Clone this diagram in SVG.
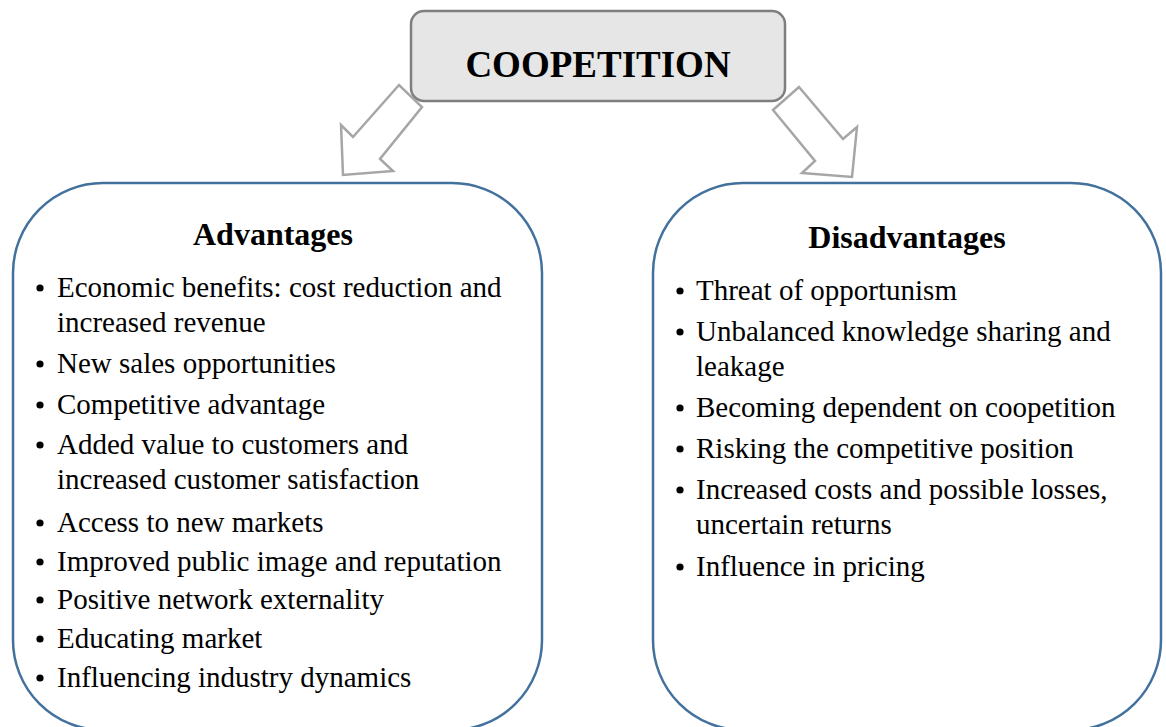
<svg xmlns="http://www.w3.org/2000/svg" width="1166" height="727" viewBox="0 0 1166 727">
<style>
.panel{fill:#ffffff;stroke:#41719c;stroke-width:2.5}
.arrow{fill:#ffffff;stroke:#a6a6a6;stroke-width:2.5;stroke-linejoin:miter}
.top{fill:#e6e6e6;stroke:#7f7f7f;stroke-width:2.5}
.title{font-family:"Liberation Serif","Times New Roman",serif;font-weight:bold;fill:#000;text-anchor:middle}
.item{font-family:"Liberation Serif","Times New Roman",serif;font-size:29px;fill:#000}
.dot{fill:#000}
</style>
<rect width="1166" height="727" fill="#ffffff"/>
<g id="connectors">
<polygon class="arrow" points="399,85 353,137 341,125 343,175 393,171 380,159 422,107"/>
<polygon class="arrow" points="799,87 843,139 857,127 852,177 802,173 815,161 773,110"/>
</g>
<g id="coopetition">
<rect class="top" x="411" y="11" width="374" height="90" rx="13" ry="13"/>
<text class="title" x="598" y="77" font-size="37">COOPETITION</text>
</g>
<g id="advantages">
<rect class="panel" x="13" y="183" width="529" height="547" rx="90" ry="90"/>
<text class="title" x="273" y="245" font-size="32">Advantages</text>
<circle class="dot" cx="40" cy="288" r="3.6"/>
<text class="item" x="57" y="297">Economic benefits: cost reduction and</text>
<text class="item" x="57" y="332">increased revenue</text>
<circle class="dot" cx="40" cy="364" r="3.6"/>
<text class="item" x="57" y="373">New sales opportunities</text>
<circle class="dot" cx="40" cy="405" r="3.6"/>
<text class="item" x="57" y="414">Competitive advantage</text>
<circle class="dot" cx="40" cy="445" r="3.6"/>
<text class="item" x="57" y="454">Added value to customers and</text>
<text class="item" x="57" y="489">increased customer satisfaction</text>
<circle class="dot" cx="40" cy="523" r="3.6"/>
<text class="item" x="57" y="532">Access to new markets</text>
<circle class="dot" cx="40" cy="562" r="3.6"/>
<text class="item" x="57" y="571">Improved public image and reputation</text>
<circle class="dot" cx="40" cy="600" r="3.6"/>
<text class="item" x="57" y="609">Positive network externality</text>
<circle class="dot" cx="40" cy="639" r="3.6"/>
<text class="item" x="57" y="648">Educating market</text>
<circle class="dot" cx="40" cy="678" r="3.6"/>
<text class="item" x="57" y="687">Influencing industry dynamics</text>
</g>
<g id="disadvantages">
<rect class="panel" x="653" y="183" width="508" height="547" rx="90" ry="90"/>
<text class="title" x="907" y="248" font-size="32">Disadvantages</text>
<circle class="dot" cx="680" cy="291" r="3.6"/>
<text class="item" x="696" y="300">Threat of opportunism</text>
<circle class="dot" cx="680" cy="332" r="3.6"/>
<text class="item" x="696" y="341">Unbalanced knowledge sharing and</text>
<text class="item" x="696" y="376">leakage</text>
<circle class="dot" cx="680" cy="408" r="3.6"/>
<text class="item" x="696" y="417">Becoming dependent on coopetition</text>
<circle class="dot" cx="680" cy="449" r="3.6"/>
<text class="item" x="696" y="458">Risking the competitive position</text>
<circle class="dot" cx="680" cy="490" r="3.6"/>
<text class="item" x="696" y="499">Increased costs and possible losses,</text>
<text class="item" x="696" y="534">uncertain returns</text>
<circle class="dot" cx="680" cy="567" r="3.6"/>
<text class="item" x="696" y="576">Influence in pricing</text>
</g>
</svg>
